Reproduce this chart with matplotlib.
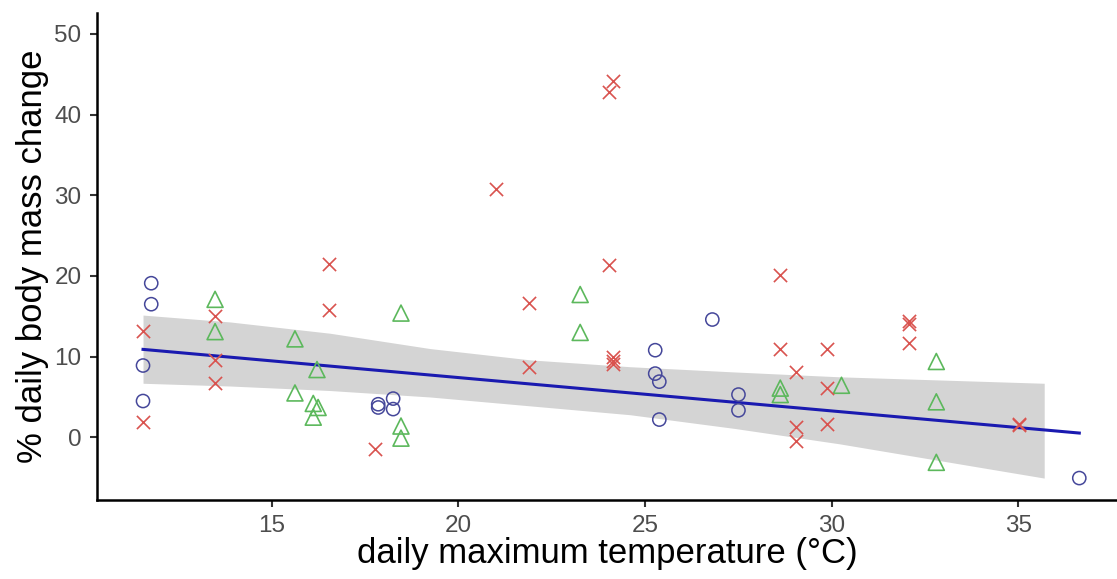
import matplotlib
import matplotlib.pyplot as plt

matplotlib.use('Agg')

plt.rcParams['font.family'] = ['Liberation Sans', 'DejaVu Sans']

# Group 1: open circles
circle_temp = [11.77, 11.77, 11.55, 11.55, 17.85, 17.85, 18.25, 18.25,
               25.27, 25.27, 25.38, 25.38, 26.80, 27.50, 27.50, 36.63]
circle_mass = [19.1, 16.5, 8.9, 4.5, 4.1, 3.7, 4.8, 3.5,
               10.8, 7.9, 6.9, 2.2, 14.6, 5.3, 3.35, -5.05]

# Group 2: open triangles
triangle_temp = [13.48, 13.48, 15.62, 16.21, 15.62, 16.11, 16.24, 16.11,
                 18.46, 18.46, 18.46, 23.26, 23.26, 28.62, 28.62, 30.26,
                 32.80, 32.80, 32.80]
triangle_mass = [17.1, 13.1, 12.2, 8.4, 5.5, 4.2, 3.7, 2.5,
                 15.4, 1.4, -0.1, 17.7, 13.0, 6.1, 5.3, 6.45,
                 9.4, 4.4, -3.1]

# Group 3: crosses
cross_temp = [11.55, 11.55, 13.48, 13.48, 13.48, 16.53, 16.53, 17.77,
              24.14, 24.04, 21.01, 24.04, 21.89, 21.89, 24.14, 24.14,
              24.14, 28.62, 28.62, 29.05, 29.05, 29.05, 29.86, 29.86,
              29.86, 32.08, 32.08, 32.08, 35.02, 35.02]
cross_mass = [13.2, 1.9, 15.0, 9.55, 6.7, 21.5, 15.8, -1.4,
              44.2, 42.8, 30.8, 21.3, 16.7, 8.7, 10.0, 9.4,
              9.1, 20.1, 10.9, 8.1, 1.3, -0.4, 10.9, 6.1,
              1.7, 14.4, 14.0, 11.7, 1.7, 1.5]

# fitted trend and its confidence ribbon
fit_temp = [11.55, 36.63]
fit_mass = [10.9, 0.53]
band_temp = [11.55, 13.88, 16.56, 19.24, 21.92, 24.6, 27.4, 30.2, 35.69]
band_upper = [15.15, 14.3, 12.9, 11.0, 9.6, 8.75, 8.1, 7.5, 6.7]
band_lower = [6.7, 6.36, 5.8, 5.0, 3.9, 2.8, 1.1, -0.8, -5.05]

x_ticks = [15, 20, 25, 30, 35]
y_ticks = [0, 10, 20, 30, 40, 50]

fig = plt.figure(figsize=(11.17, 5.79), dpi=100)
ax = fig.add_axes([0.0866, 0.1364, 0.9134, 0.8413])

ax.fill_between(band_temp, band_lower, band_upper, color='#d4d4d4',
                linewidth=0, zorder=1)
ax.plot(fit_temp, fit_mass, color='#1a1ab0', linewidth=2.2, zorder=2)

ax.scatter(circle_temp, circle_mass, s=9.5 ** 2, marker='o',
           facecolors='none', edgecolors='#45479a', linewidths=1.1,
           zorder=3)
ax.scatter(triangle_temp, triangle_mass, s=11.5 ** 2, marker='^',
           facecolors='none', edgecolors='#5cb85c', linewidths=1.2,
           zorder=3)
ax.scatter(cross_temp, cross_mass, s=9.5 ** 2, marker='x',
           color='#d9534f', linewidths=1.2, zorder=3)

ax.set_xlim(10.31, 37.64)
ax.set_ylim(-7.77, 52.6)
ax.set_xticks(x_ticks)
ax.set_yticks(y_ticks)

for side in ['top', 'right']:
    ax.spines[side].set_visible(False)
for side in ['left', 'bottom']:
    ax.spines[side].set_linewidth(1.8)
    ax.spines[side].set_color('black')

ax.tick_params(axis='both', labelsize=17.5, labelcolor='#4d4d4d',
               color='#333333', length=5, width=1.5, pad=6)

ax.set_xlabel('daily maximum temperature (°C)', fontsize=25, labelpad=0)
ax.set_ylabel('% daily body mass change', fontsize=25, labelpad=4)

fig.savefig('out.png', dpi=100)
